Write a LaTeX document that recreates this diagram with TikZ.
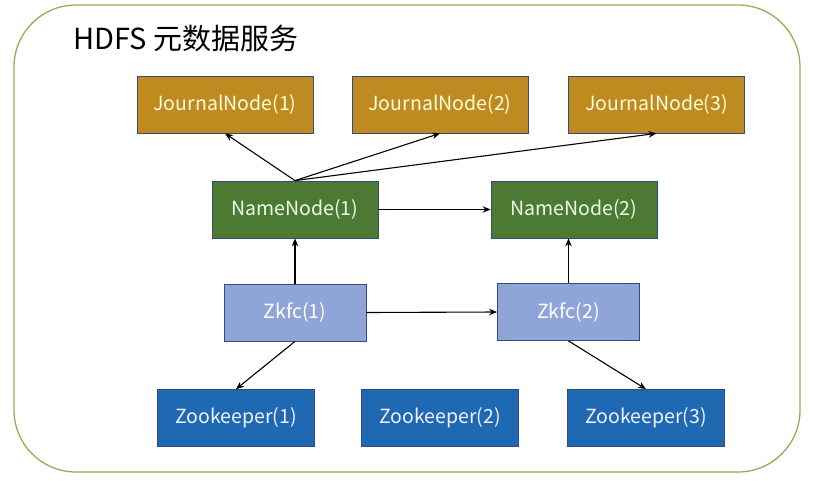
\documentclass[tikz,border=0pt]{standalone}
\usepackage{fontspec}
\setmainfont{Noto Sans CJK SC}
\usetikzlibrary{arrows.meta}
\definecolor{jncol}{HTML}{BF8A20}
\definecolor{nncol}{HTML}{4C7A32}
\definecolor{zkfccol}{HTML}{8FA5DA}
\definecolor{zkcol}{HTML}{1F68B2}
\definecolor{framecol}{HTML}{9AAA5C}
\definecolor{boxline}{HTML}{3A4A78}
\tikzset{
  box/.style={draw=boxline, line width=0.8pt, minimum height=57pt, inner sep=0pt, font=\fontsize{19.5}{22}\selectfont},
  jn/.style={box, fill=jncol, text=yellow!15, minimum width=176pt},
  nn/.style={box, fill=nncol, text=green!8, minimum width=166pt},
  zkfc/.style={box, fill=zkfccol, text=white, minimum width=142pt},
  zk/.style={box, fill=zkcol, text=blue!5, minimum width=157pt},
  arr/.style={-{Stealth[length=8pt,width=6.5pt]}, line width=1.1pt, black}
}
\begin{document}
\begin{tikzpicture}[x=1pt,y=-1pt]
\useasboundingbox (0,0) rectangle (815,480);
\draw[framecol, line width=1.3pt, rounded corners=62pt] (14,5) rectangle (800,472);
\node[anchor=west, font=\fontsize{29}{32}\selectfont] (title) at (70,39) {HDFS 元数据服务};
\node[jn] (jn1) at (225,104.5) {JournalNode(1)};
\node[jn] (jn2) at (440,104.5) {JournalNode(2)};
\node[jn] (jn3) at (656.5,104.5) {JournalNode(3)};
\node[nn] (nn1) at (295,209.5) {NameNode(1)};
\node[nn] (nn2) at (574,209.5) {NameNode(2)};
\node[zkfc] (zf1) at (295,312.5) {Zkfc(1)};
\node[zkfc] (zf2) at (568.5,312) {Zkfc(2)};
\node[zk] (zk1) at (236,418) {Zookeeper(1)};
\node[zk] (zk2) at (440,418) {Zookeeper(2)};
\node[zk] (zk3) at (646,418) {Zookeeper(3)};
\coordinate (nntop) at (nn1.north);
\draw[arr] (nntop) -- (jn1.south);
\draw[arr] (nntop) -- (jn2.south);
\draw[arr] (nntop) -- (jn3.south);
\draw[arr] (nn1.east) -- (nn2.west);
\draw[arr] (zf1.north) -- (nn1.south);
\draw[arr] (zf2.north) -- (zf2.north |- nn2.south);
\draw[arr] (zf1.east) -- (zf2.west);
\draw[arr] (zf1.south) -- (zk1.north);
\draw[arr] (zf2.south) -- (zk3.north);
\end{tikzpicture}
\end{document}
